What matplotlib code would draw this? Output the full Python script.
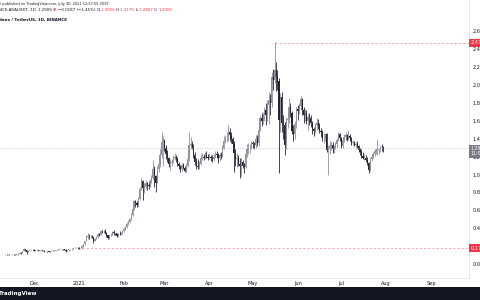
import numpy as np
import pandas as pd
import matplotlib
matplotlib.use('Agg')
import matplotlib.pyplot as plt
import matplotlib.dates as mdates
import matplotlib.transforms as mtrans
from matplotlib.patches import Rectangle

# ADA/USDT daily candles, 2020-11-08 .. 2021-07-30
first_open = 0.101

nov_c = [0.103, 0.102, 0.104, 0.106, 0.104, 0.106, 0.103, 0.101, 0.106, 0.105, 0.104, 0.107, 0.115, 0.128, 0.125, 0.145, 0.170, 0.152, 0.135, 0.146, 0.156, 0.160, 0.162]
nov_h = [0.106, 0.105, 0.106, 0.108, 0.107, 0.108, 0.107, 0.104, 0.108, 0.108, 0.107, 0.109, 0.118, 0.135, 0.133, 0.150, 0.180, 0.172, 0.155, 0.150, 0.160, 0.164, 0.170]
nov_l = [0.099, 0.099, 0.101, 0.102, 0.102, 0.103, 0.101, 0.099, 0.100, 0.102, 0.101, 0.102, 0.106, 0.114, 0.117, 0.122, 0.143, 0.142, 0.115, 0.130, 0.143, 0.153, 0.155]

dec_c = [0.148, 0.156, 0.160, 0.145, 0.152, 0.155, 0.151, 0.141, 0.146, 0.142, 0.138, 0.145, 0.151, 0.149, 0.150, 0.158, 0.162, 0.167, 0.170, 0.167, 0.163, 0.162, 0.145, 0.152, 0.163, 0.164, 0.173, 0.179, 0.182, 0.184, 0.181]
dec_h = [0.164, 0.158, 0.163, 0.161, 0.154, 0.158, 0.157, 0.152, 0.148, 0.147, 0.143, 0.146, 0.153, 0.153, 0.152, 0.160, 0.168, 0.170, 0.175, 0.172, 0.169, 0.166, 0.163, 0.154, 0.165, 0.168, 0.176, 0.184, 0.187, 0.190, 0.187]
dec_l = [0.144, 0.146, 0.152, 0.142, 0.143, 0.149, 0.148, 0.138, 0.139, 0.138, 0.132, 0.136, 0.143, 0.146, 0.146, 0.148, 0.155, 0.160, 0.164, 0.162, 0.155, 0.156, 0.130, 0.141, 0.150, 0.158, 0.162, 0.170, 0.174, 0.178, 0.172]

jan_c = [0.175, 0.177, 0.204, 0.224, 0.258, 0.305, 0.316, 0.312, 0.318, 0.300, 0.262, 0.284, 0.301, 0.338, 0.330, 0.370, 0.368, 0.370, 0.351, 0.320, 0.292, 0.322, 0.330, 0.358, 0.345, 0.342, 0.310, 0.340, 0.331, 0.340, 0.372]
jan_h = [0.185, 0.184, 0.215, 0.229, 0.262, 0.330, 0.350, 0.335, 0.330, 0.325, 0.302, 0.292, 0.308, 0.346, 0.345, 0.382, 0.382, 0.380, 0.389, 0.358, 0.324, 0.329, 0.342, 0.364, 0.376, 0.352, 0.344, 0.349, 0.366, 0.353, 0.378]
jan_l = [0.167, 0.170, 0.173, 0.185, 0.218, 0.254, 0.275, 0.285, 0.292, 0.290, 0.240, 0.257, 0.275, 0.296, 0.312, 0.325, 0.345, 0.351, 0.340, 0.305, 0.281, 0.285, 0.311, 0.322, 0.330, 0.326, 0.300, 0.300, 0.320, 0.325, 0.335]

feb_c = [0.392, 0.410, 0.450, 0.470, 0.500, 0.550, 0.620, 0.700, 0.680, 0.660, 0.730, 0.840, 0.930, 0.850, 0.860, 0.900, 0.880, 0.870, 0.930, 0.960, 1.060, 0.980, 0.900, 1.060, 1.120, 1.220, 1.360, 1.380]
feb_h = [0.410, 0.420, 0.465, 0.495, 0.510, 0.575, 0.660, 0.720, 0.720, 0.700, 0.750, 0.860, 0.965, 0.940, 0.900, 0.940, 0.920, 0.900, 0.950, 0.990, 1.160, 1.100, 1.000, 1.100, 1.160, 1.280, 1.480, 1.430]
feb_l = [0.360, 0.385, 0.405, 0.440, 0.460, 0.490, 0.535, 0.600, 0.640, 0.640, 0.640, 0.720, 0.830, 0.720, 0.790, 0.840, 0.830, 0.840, 0.860, 0.900, 0.940, 0.860, 0.800, 0.900, 1.030, 1.080, 1.190, 1.100]

mar_c = [1.300, 1.230, 1.190, 1.120, 1.130, 1.140, 1.190, 1.200, 1.170, 1.120, 1.090, 1.060, 1.110, 1.070, 1.040, 1.100, 1.170, 1.330, 1.340, 1.310, 1.220, 1.140, 1.100, 1.080, 1.120, 1.190, 1.200, 1.190, 1.220, 1.200, 1.190]
mar_h = [1.400, 1.330, 1.270, 1.200, 1.170, 1.170, 1.220, 1.240, 1.220, 1.200, 1.140, 1.110, 1.130, 1.130, 1.100, 1.130, 1.200, 1.470, 1.420, 1.380, 1.340, 1.250, 1.180, 1.170, 1.150, 1.230, 1.240, 1.230, 1.250, 1.260, 1.230]
mar_l = [1.260, 1.170, 1.140, 1.080, 1.050, 1.100, 1.130, 1.160, 1.140, 1.100, 1.060, 1.030, 1.040, 1.060, 1.030, 1.030, 1.080, 1.150, 1.280, 1.280, 1.190, 1.110, 1.060, 1.060, 1.060, 1.110, 1.160, 1.160, 1.170, 1.180, 1.160]

apr_c = [1.200, 1.180, 1.170, 1.200, 1.230, 1.220, 1.180, 1.220, 1.210, 1.290, 1.380, 1.400, 1.400, 1.470, 1.440, 1.400, 1.340, 1.240, 1.170, 1.180, 1.120, 1.100, 1.140, 1.100, 1.080, 1.230, 1.290, 1.300, 1.300, 1.350]
apr_h = [1.240, 1.220, 1.220, 1.230, 1.260, 1.260, 1.240, 1.240, 1.250, 1.330, 1.430, 1.440, 1.470, 1.550, 1.520, 1.470, 1.420, 1.370, 1.280, 1.240, 1.220, 1.180, 1.180, 1.160, 1.130, 1.260, 1.340, 1.350, 1.340, 1.380]
apr_l = [1.170, 1.150, 1.140, 1.150, 1.190, 1.180, 1.130, 1.150, 1.170, 1.200, 1.280, 1.350, 1.360, 1.380, 1.380, 1.350, 1.290, 1.030, 1.100, 1.080, 1.090, 0.960, 0.980, 1.070, 1.020, 1.070, 1.200, 1.230, 1.240, 1.280]

may_c = [1.340, 1.330, 1.400, 1.350, 1.500, 1.630, 1.600, 1.660, 1.720, 1.660, 1.780, 1.830, 1.800, 2.090, 2.060, 2.170, 2.090, 2.050, 1.610, 1.870, 1.580, 1.550, 1.330, 1.610, 1.620, 1.760, 1.690, 1.490, 1.450, 1.560, 1.730]
may_h = [1.380, 1.360, 1.440, 1.440, 1.550, 1.660, 1.690, 1.700, 1.760, 1.800, 1.830, 1.920, 1.900, 2.150, 2.180, 2.480, 2.260, 2.170, 2.080, 1.910, 1.920, 1.660, 1.590, 1.640, 1.700, 1.850, 1.800, 1.710, 1.550, 1.600, 1.760]
may_l = [1.300, 1.280, 1.300, 1.320, 1.320, 1.490, 1.540, 1.570, 1.600, 1.550, 1.600, 1.560, 1.670, 1.760, 1.950, 2.020, 1.930, 1.950, 1.020, 1.480, 1.480, 1.400, 1.220, 1.290, 1.520, 1.580, 1.640, 1.450, 1.370, 1.400, 1.520]

jun_c = [1.710, 1.770, 1.840, 1.720, 1.660, 1.690, 1.600, 1.640, 1.630, 1.580, 1.510, 1.490, 1.550, 1.580, 1.550, 1.490, 1.480, 1.410, 1.410, 1.450, 1.270, 1.280, 1.320, 1.330, 1.280, 1.300, 1.340, 1.390, 1.450, 1.410]
jun_h = [1.780, 1.800, 1.880, 1.860, 1.760, 1.730, 1.720, 1.680, 1.690, 1.670, 1.600, 1.530, 1.580, 1.630, 1.620, 1.580, 1.520, 1.500, 1.460, 1.460, 1.460, 1.330, 1.380, 1.380, 1.360, 1.330, 1.360, 1.410, 1.480, 1.460]
jun_l = [1.610, 1.680, 1.730, 1.670, 1.580, 1.600, 1.570, 1.500, 1.550, 1.530, 1.450, 1.430, 1.460, 1.500, 1.510, 1.460, 1.420, 1.380, 1.350, 1.370, 1.250, 1.000, 1.230, 1.270, 1.240, 1.240, 1.290, 1.310, 1.380, 1.380]

jul_c = [1.320, 1.390, 1.420, 1.440, 1.390, 1.430, 1.410, 1.350, 1.360, 1.330, 1.340, 1.320, 1.270, 1.250, 1.210, 1.190, 1.190, 1.160, 1.130, 1.050, 1.170, 1.200, 1.230, 1.260, 1.270, 1.270, 1.280, 1.310, 1.3056, 1.2909]
jul_h = [1.420, 1.410, 1.450, 1.480, 1.450, 1.500, 1.450, 1.420, 1.390, 1.380, 1.360, 1.370, 1.330, 1.300, 1.280, 1.250, 1.230, 1.220, 1.200, 1.140, 1.200, 1.230, 1.250, 1.290, 1.300, 1.400, 1.300, 1.330, 1.340, 1.3179]
jul_l = [1.300, 1.300, 1.360, 1.390, 1.370, 1.390, 1.380, 1.330, 1.330, 1.320, 1.300, 1.300, 1.250, 1.220, 1.180, 1.170, 1.160, 1.140, 1.110, 1.020, 1.040, 1.150, 1.190, 1.210, 1.230, 1.220, 1.230, 1.250, 1.260, 1.2467]

closes = nov_c + dec_c + jan_c + feb_c + mar_c + apr_c + may_c + jun_c + jul_c
highs = nov_h + dec_h + jan_h + feb_h + mar_h + apr_h + may_h + jun_h + jul_h
lows = nov_l + dec_l + jan_l + feb_l + mar_l + apr_l + may_l + jun_l + jul_l
opens = [first_open] + closes[:-1]   # daily open = previous close
dates = pd.date_range('2020-11-08', periods=len(closes), freq='D')

last_price = 1.2909
ath_level = 2.4700
low_level = 0.1750

month_ticks = ['2020-12-01', '2021-01-01', '2021-02-01', '2021-03-01', '2021-04-01',
               '2021-05-01', '2021-06-01', '2021-07-01', '2021-08-01', '2021-09-01']
month_labels = ['Dec', '2021', 'Feb', 'Mar', 'Apr', 'May', 'Jun', 'Jul', 'Aug', 'Sep']
price_ticks = [0.0, 0.2, 0.4, 0.6, 0.8, 1.0, 1.2, 1.4, 1.6, 1.8, 2.0, 2.2, 2.4, 2.6]

UP = '#8f929b'
DOWN = '#23262f'
RED = '#f23645'
TXT = '#131722'

# ---- figure ----
W, H = 480, 300
fig = plt.figure(figsize=(W / 100, H / 100), dpi=100)
ax = fig.add_axes([0, 22 / H, 469 / W, 278 / H])

x = mdates.date2num(dates)
o = np.array(opens)
c = np.array(closes)
colors = np.where(c >= o, UP, DOWN)
ax.vlines(x, lows, highs, colors=colors, lw=0.6)
ax.bar(x, np.abs(c - o), bottom=np.minimum(o, c), width=0.85, color=colors, linewidth=0)

d0 = mdates.date2num(pd.Timestamp('2020-12-01'))
ax.set_xlim(d0 - 23.5, d0 + 300.2)
ax.set_ylim(-0.156, 2.95)

# horizontal levels
ax.axhline(last_price, color='#b2b5be', lw=0.5, ls=(0, (1, 1.5)))
ax.hlines(ath_level, mdates.date2num(pd.Timestamp('2021-05-16')), d0 + 300.2,
          color=RED, lw=0.5, ls=(0, (3, 3)), alpha=0.6)
ax.hlines(low_level, mdates.date2num(pd.Timestamp('2021-01-03')), d0 + 300.2,
          color=RED, lw=0.5, ls=(0, (3, 3)), alpha=0.6)

# axes styling
for s in ['top', 'left']:
    ax.spines[s].set_visible(False)
ax.spines['right'].set_color('#e0e3eb')
ax.spines['bottom'].set_color('#e0e3eb')
ax.spines['right'].set_linewidth(0.6)
ax.spines['bottom'].set_linewidth(0.6)

ax.set_xticks(mdates.date2num(pd.to_datetime(month_ticks)))
ax.set_xticklabels(month_labels)
ax.tick_params(axis='x', length=0, pad=2.2, labelsize=3.6, labelcolor=TXT)

ax.yaxis.tick_right()
ax.set_yticks(price_ticks)
ax.set_yticklabels(['%.2f' % p for p in price_ticks])
ax.tick_params(axis='y', length=0, pad=2.5, labelsize=3.6, labelcolor=TXT)

# price-scale labels
blend = mtrans.blended_transform_factory(ax.transAxes, ax.transData)
for lvl in [ath_level, low_level]:
    ax.text(1.004, lvl, '%.4f' % lvl, transform=blend, fontsize=3.6, color='white',
            va='center', ha='left', clip_on=False,
            bbox=dict(boxstyle='square,pad=0.3', fc=RED, ec='none'))
ax.text(1.004, last_price - 0.03, '%.4f\n11:02:04' % last_price, transform=blend, fontsize=3.4,
        color='white', va='center', ha='left', clip_on=False, linespacing=1.1,
        bbox=dict(boxstyle='square,pad=0.3', fc='#787b86', ec='none'))

# footer band
fig.patches.append(Rectangle((0, 0), 1, 13 / H, transform=fig.transFigure,
                             facecolor=TXT, edgecolor='none'))
fig.text(-1 / W, 6.5 / H, 'TradingView', color='white', fontsize=4, fontweight='bold',
         va='center', ha='left')

# header lines
fig.text(-1 / W, 1 - 4.5 / H, 'n published on TradingView.com, July 30, 2021 12:57:55 CEST',
         fontsize=2.5, color=TXT, va='center', ha='left')
fig.text(-1 / W, 1 - 20 / H, 'dano / TetherUS, 1D, BINANCE',
         fontsize=2.9, color=TXT, va='center', ha='left', fontweight='bold')

segments = [('NCE:ADAUSDT, 1D  ', TXT), ('1.2909 ', TXT), ('\u25bc ', RED),
            ('\u22120.0187 (\u22121.45%) ', TXT), ('O:', TXT), ('1.3056 ', RED),
            ('H:', TXT), ('1.3179 ', RED), ('L:', TXT), ('1.2467 ', RED),
            ('C:', TXT), ('1.2909', RED)]
renderer = fig.canvas.get_renderer()
xpos = -1.0
for txt, col in segments:
    t = fig.text(xpos / W, 1 - 10 / H, txt, fontsize=2.9, color=col, va='center', ha='left')
    xpos = t.get_window_extent(renderer).x1

fig.savefig('out.png', dpi=100, facecolor='white')
